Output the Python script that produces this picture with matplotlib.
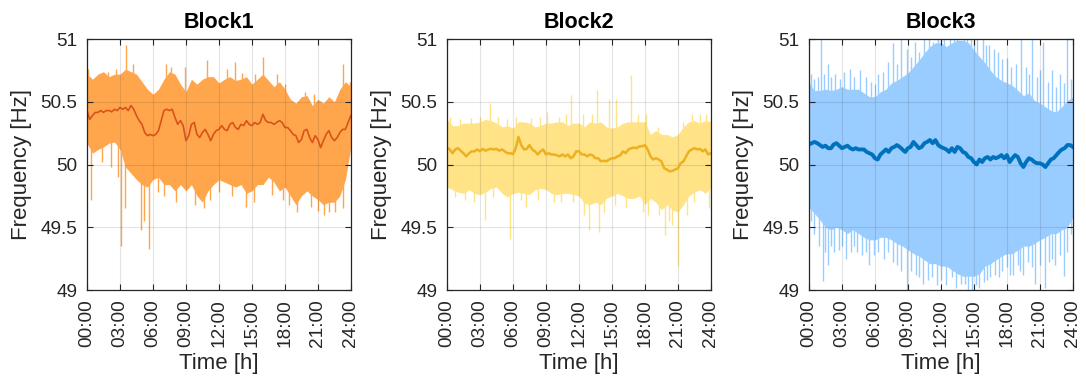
import numpy as np
import matplotlib.pyplot as plt

plt.rcParams['font.family'] = ['Liberation Sans', 'DejaVu Sans']

# time grids: quarter hours for the mean, half hours for the spread
hours_q = np.arange(0, 24.25, 0.25)
hours_h = np.arange(0, 24.5, 0.5)

# ---- Block1 [Hz]
b1_mean = [50.43, 50.36, 50.39, 50.415, 50.415, 50.43, 50.415, 50.43, 50.43, 50.42,
           50.44, 50.43, 50.455, 50.44, 50.455, 50.43, 50.47, 50.44, 50.39, 50.35,
           50.32, 50.255, 50.23, 50.24, 50.23, 50.24, 50.27, 50.35, 50.43, 50.44,
           50.43, 50.44, 50.375, 50.32, 50.35, 50.31, 50.19, 50.23, 50.32, 50.335,
           50.24, 50.215, 50.255, 50.28, 50.24, 50.19, 50.24, 50.27, 50.28, 50.31,
           50.28, 50.27, 50.32, 50.335, 50.295, 50.28, 50.32, 50.31, 50.35, 50.32,
           50.31, 50.335, 50.32, 50.335, 50.40, 50.35, 50.335, 50.335, 50.32, 50.335,
           50.35, 50.335, 50.295, 50.295, 50.27, 50.24, 50.23, 50.175, 50.20, 50.27,
           50.28, 50.215, 50.175, 50.23, 50.20, 50.135, 50.19, 50.24, 50.27, 50.215,
           50.19, 50.215, 50.255, 50.28, 50.28, 50.335, 50.39]
b1_upper = [50.72, 50.68, 50.72, 50.74, 50.70, 50.72, 50.72, 50.76, 50.74, 50.72,
            50.66, 50.60, 50.56, 50.60, 50.68, 50.74, 50.72, 50.64, 50.58, 50.68,
            50.64, 50.68, 50.70, 50.70, 50.65, 50.68, 50.70, 50.67, 50.68, 50.70,
            50.64, 50.68, 50.72, 50.67, 50.62, 50.66, 50.60, 50.52, 50.49, 50.54,
            50.55, 50.47, 50.52, 50.49, 50.54, 50.50, 50.60, 50.66, 50.62]
b1_lower = [50.17, 50.09, 50.12, 50.14, 50.17, 50.18, 50.12, 49.98, 49.93, 49.88,
            49.84, 49.82, 49.88, 49.90, 49.84, 49.84, 49.79, 49.84, 49.79, 49.84,
            49.75, 49.70, 49.79, 49.84, 49.88, 49.86, 49.84, 49.82, 49.84, 49.77,
            49.79, 49.84, 49.84, 49.90, 49.86, 49.79, 49.82, 49.75, 49.68, 49.75,
            49.79, 49.75, 49.72, 49.68, 49.70, 49.70, 49.75, 49.88, 50.14]
b1_peaks_t = [0.05, 1.1, 1.9, 2.6, 3.56, 4.2, 7.2, 7.6, 8.9, 10.9, 12.7, 13.5,
              14.1, 15.3, 16.05, 17.3, 18.0, 19.8, 20.6, 23.3, 23.9]
b1_peaks_f = [50.76, 50.72, 50.74, 50.76, 50.95, 50.80, 50.80, 50.78, 50.78, 50.83,
              50.76, 50.82, 50.73, 50.72, 50.86, 50.72, 50.64, 50.58, 50.56, 50.80,
              50.66]
b1_dips_t = [0.4, 1.4, 2.2, 2.8, 3.1, 3.5, 4.9, 5.2, 5.6, 6.5, 7.0, 8.1, 9.8,
             10.6, 11.2, 12.0, 13.2, 14.5, 15.2, 16.8, 17.8, 18.4, 19.1, 20.4,
             21.0, 21.6, 22.0, 22.6, 23.3]
b1_dips_f = [49.72, 50.02, 49.98, 49.90, 49.35, 49.65, 49.48, 49.55, 49.33, 49.78,
             49.75, 49.70, 49.68, 49.65, 49.72, 49.78, 49.75, 49.66, 49.70, 49.76,
             49.72, 49.68, 49.62, 49.66, 49.63, 49.60, 49.62, 49.62, 49.65]

# ---- Block2
b2_mean = [50.135, 50.12, 50.09, 50.12, 50.13, 50.11, 50.09, 50.065, 50.09, 50.105,
           50.105, 50.12, 50.105, 50.125, 50.11, 50.12, 50.125, 50.12, 50.125, 50.11,
           50.12, 50.105, 50.09, 50.09, 50.083, 50.13, 50.22, 50.155, 50.12, 50.125,
           50.155, 50.12, 50.105, 50.08, 50.105, 50.12, 50.08, 50.09, 50.08, 50.08,
           50.073, 50.065, 50.08, 50.065, 50.08, 50.05, 50.065, 50.105, 50.105, 50.08,
           50.08, 50.065, 50.08, 50.073, 50.05, 50.05, 50.025, 50.03, 50.025, 50.04,
           50.05, 50.05, 50.065, 50.073, 50.105, 50.09, 50.12, 50.13, 50.135, 50.13,
           50.145, 50.145, 50.155, 50.12, 50.065, 50.04, 50.05, 50.04, 50.025, 49.97,
           49.96, 49.945, 49.95, 49.96, 49.97, 50.01, 50.025, 50.065, 50.105, 50.12,
           50.13, 50.12, 50.125, 50.105, 50.12, 50.08, 50.09]
b2_upper = [50.36, 50.31, 50.31, 50.33, 50.33, 50.33, 50.34, 50.36, 50.35, 50.33,
            50.30, 50.31, 50.29, 50.34, 50.34, 50.33, 50.30, 50.31, 50.33, 50.33,
            50.34, 50.34, 50.31, 50.33, 50.33, 50.30, 50.34, 50.33, 50.34, 50.30,
            50.29, 50.30, 50.33, 50.34, 50.34, 50.34, 50.34, 50.24, 50.27, 50.24,
            50.24, 50.22, 50.24, 50.30, 50.34, 50.35, 50.33, 50.35, 50.34]
b2_lower = [49.82, 49.80, 49.78, 49.77, 49.80, 49.77, 49.76, 49.78, 49.81, 49.82,
            49.77, 49.74, 49.77, 49.78, 49.77, 49.76, 49.80, 49.81, 49.80, 49.77,
            49.76, 49.77, 49.77, 49.76, 49.75, 49.69, 49.68, 49.70, 49.68, 49.73,
            49.75, 49.77, 49.75, 49.73, 49.73, 49.75, 49.68, 49.73, 49.70, 49.64,
            49.68, 49.64, 49.62, 49.68, 49.75, 49.78, 49.80, 49.77, 49.82]
b2_peaks_t = [0.3, 1.2, 2.2, 3.0, 3.9, 4.6, 5.5, 6.3, 7.6, 8.5, 9.1, 10.2, 10.8,
              11.3, 12.4, 13.2, 13.65, 14.7, 15.4, 16.7, 17.4, 18.1, 19.2, 21.5,
              22.3, 23.0, 23.6]
b2_peaks_f = [50.38, 50.36, 50.37, 50.38, 50.49, 50.38, 50.36, 50.38, 50.37, 50.38,
              50.42, 50.38, 50.40, 50.55, 50.40, 50.40, 50.59, 50.52, 50.52, 50.71,
              50.40, 50.40, 50.30, 50.34, 50.40, 50.40, 50.40]
b2_dips_t = [0.7, 1.6, 2.5, 3.5, 4.2, 5.7, 6.7, 7.2, 8.3, 9.7, 10.4, 11.5, 12.5,
             12.9, 13.8, 14.3, 15.3, 16.3, 17.8, 18.3, 19.3, 19.8, 20.2, 20.5,
             21.0, 21.8, 22.5, 23.8]
b2_dips_f = [49.74, 49.72, 49.70, 49.56, 49.74, 49.41, 49.72, 49.66, 49.72, 49.70,
             49.70, 49.70, 49.60, 49.48, 49.46, 49.62, 49.68, 49.66, 49.62, 49.60,
             49.60, 49.44, 49.55, 49.52, 49.19, 49.60, 49.70, 49.65]

# ---- Block3
b3_mean = [50.16, 50.17, 50.18, 50.17, 50.155, 50.14, 50.15, 50.13, 50.13, 50.16,
           50.17, 50.15, 50.13, 50.14, 50.15, 50.13, 50.12, 50.13, 50.12, 50.12,
           50.12, 50.10, 50.09, 50.08, 50.05, 50.04, 50.08, 50.10, 50.12, 50.10,
           50.13, 50.14, 50.155, 50.14, 50.12, 50.10, 50.13, 50.14, 50.18, 50.155,
           50.13, 50.14, 50.17, 50.18, 50.195, 50.17, 50.195, 50.155, 50.14, 50.13,
           50.12, 50.10, 50.13, 50.10, 50.14, 50.13, 50.10, 50.09, 50.06, 50.05,
           50.02, 50.00, 50.04, 50.02, 50.05, 50.06, 50.04, 50.06, 50.05, 50.06,
           50.075, 50.05, 50.075, 50.02, 50.05, 50.075, 50.06, 50.01, 49.98, 50.02,
           50.05, 50.04, 50.02, 50.01, 50.01, 50.00, 49.98, 50.01, 50.04, 50.05,
           50.075, 50.10, 50.12, 50.13, 50.155, 50.155, 50.14]
b3_upper = [50.65, 50.59, 50.59, 50.60, 50.59, 50.60, 50.62, 50.60, 50.60, 50.60,
            50.57, 50.54, 50.54, 50.58, 50.60, 50.65, 50.67, 50.70, 50.73, 50.78,
            50.83, 50.89, 50.94, 50.97, 50.97, 50.94, 50.97, 50.99, 50.99, 50.97,
            50.91, 50.86, 50.81, 50.75, 50.70, 50.67, 50.65, 50.63, 50.59, 50.55,
            50.57, 50.51, 50.49, 50.46, 50.43, 50.42, 50.46, 50.51, 50.54]
b3_lower = [49.66, 49.61, 49.56, 49.50, 49.48, 49.50, 49.48, 49.45, 49.48, 49.45,
            49.42, 49.40, 49.40, 49.42, 49.42, 49.40, 49.37, 49.35, 49.32, 49.29,
            49.27, 49.24, 49.21, 49.21, 49.19, 49.19, 49.16, 49.13, 49.11, 49.11,
            49.11, 49.13, 49.19, 49.21, 49.24, 49.27, 49.29, 49.29, 49.32, 49.35,
            49.35, 49.37, 49.40, 49.42, 49.45, 49.45, 49.48, 49.50, 49.58]
b3_peaks_t = [0.2, 0.5, 0.8, 1.06, 1.4, 1.7, 2.0, 2.4, 2.8, 3.2, 3.7, 4.1, 4.6,
              5.2, 5.6, 6.0, 6.3, 6.7, 7.2, 7.6, 8.0, 8.4, 8.9, 9.3, 9.6, 10.0,
              10.5, 10.9, 11.3, 11.7, 12.0, 12.3, 12.8, 13.2, 13.5, 14.1, 14.4,
              14.7, 15.0, 15.3, 15.8, 16.1, 16.4, 16.8, 17.2, 17.6, 18.0, 18.4,
              18.8, 19.3, 19.7, 20.0, 20.3, 20.7, 21.0, 21.3, 21.7, 22.1, 22.5,
              22.8, 23.2, 23.5, 23.8]
b3_peaks_f = [50.72, 50.68, 50.70, 51.0, 50.72, 50.80, 50.70, 50.72, 50.68, 50.74,
              50.76, 50.70, 50.75, 50.70, 50.66, 50.64, 50.72, 50.74, 50.82, 50.97,
              50.80, 51.0, 50.92, 50.86, 50.98, 50.90, 51.0, 51.0, 50.98, 51.0,
              51.0, 51.0, 51.0, 51.0, 51.0, 51.0, 51.0, 51.0, 51.0, 51.0, 51.0,
              50.95, 50.95, 50.92, 50.90, 50.84, 50.85, 50.78, 50.80, 51.0, 50.78,
              50.72, 51.0, 50.70, 50.75, 50.98, 50.66, 50.75, 50.62, 50.72, 50.65,
              51.0, 50.68]
b3_dips_t = [0.2, 0.5, 0.9, 1.27, 1.5, 1.7, 2.0, 2.3, 2.7, 3.0, 3.4, 3.8, 4.1,
             4.4, 4.8, 5.2, 5.5, 5.9, 6.3, 6.8, 7.2, 7.6, 8.0, 8.4, 8.9, 9.3,
             9.7, 10.0, 10.4, 10.8, 11.2, 11.6, 12.0, 12.5, 13.0, 13.4, 13.8,
             14.2, 14.5, 14.8, 15.2, 15.5, 15.9, 16.2, 16.5, 16.9, 17.3, 17.6,
             18.0, 18.3, 18.6, 19.0, 19.2, 19.5, 19.9, 20.3, 20.6, 21.0, 21.5,
             21.8, 22.1, 22.4, 22.8, 23.2, 23.5, 23.8]
b3_dips_f = [49.55, 49.45, 49.35, 49.07, 49.30, 49.20, 49.35, 49.30, 49.32, 49.35,
             49.25, 49.30, 49.35, 49.30, 49.28, 49.30, 49.20, 49.28, 49.30, 49.25,
             49.30, 49.22, 49.20, 49.15, 49.00, 49.15, 49.12, 49.10, 49.05, 49.08,
             49.10, 49.04, 49.08, 49.04, 49.10, 49.02, 49.05, 49.05, 49.00, 49.00,
             49.04, 49.02, 49.06, 49.08, 49.10, 49.12, 49.10, 49.15, 49.18, 49.12,
             49.12, 49.20, 49.15, 49.12, 49.22, 49.18, 49.05, 49.20, 49.02, 49.22,
             49.25, 49.20, 49.28, 49.11, 49.30, 49.45]

blocks = [
    ('Block1', b1_mean, b1_upper, b1_lower, b1_peaks_t, b1_peaks_f, b1_dips_t, b1_dips_f,
     '#FFA64D', '#D95319', 1.2),
    ('Block2', b2_mean, b2_upper, b2_lower, b2_peaks_t, b2_peaks_f, b2_dips_t, b2_dips_f,
     '#FFE386', '#EDB120', 1.8),
    ('Block3', b3_mean, b3_upper, b3_lower, b3_peaks_t, b3_peaks_f, b3_dips_t, b3_dips_f,
     '#99CCFF', '#0072BD', 2.8),
]

ax_left = [0.0801, 0.4116, 0.7449]
txt = '#262626'

fig = plt.figure(figsize=(10.86, 3.81), dpi=100)

for i, (name, mean, up, lo, pk_t, pk_f, dp_t, dp_f, band_c, mean_c, mean_lw) in enumerate(blocks):
    ax = fig.add_axes([ax_left[i], 0.2388, 0.243, 0.6588])
    mean = np.array(mean)

    # spread of the individual days
    ax.fill_between(hours_h, lo, up, color=band_c, lw=0, zorder=2)
    # single-day excursions, drawn from the mean of the nearest quarter hour
    base_pk = mean[np.round(np.array(pk_t) * 4).astype(int)]
    base_dp = mean[np.round(np.array(dp_t) * 4).astype(int)]
    ax.vlines(pk_t, base_pk, pk_f, color=band_c, lw=1.0, zorder=2)
    ax.vlines(dp_t, dp_f, base_dp, color=band_c, lw=1.0, zorder=2)
    # daily mean
    ax.plot(hours_q, mean, color=mean_c, lw=mean_lw, zorder=3)

    ax.set_xlim(0, 24)
    ax.set_ylim(49, 51)
    ax.set_xticks(np.arange(0, 25, 3))
    ax.set_xticklabels(['%02d:00' % h for h in range(0, 25, 3)], rotation=90)
    ax.set_yticks([49, 49.5, 50, 50.5, 51])
    ax.set_yticklabels(['49', '49.5', '50', '50.5', '51'])
    ax.grid(True, color='#262626', alpha=0.12, lw=0.8, zorder=4)
    ax.set_axisbelow(False)
    ax.tick_params(direction='in', length=4, width=0.8, colors=txt, labelsize=13.7,
                   top=True, right=True, pad=7)
    for s in ax.spines.values():
        s.set_color(txt)
        s.set_linewidth(0.9)
        s.set_zorder(5)

    ax.set_title(name, fontsize=15.5, fontweight='bold', pad=8)
    ax.set_xlabel('Time [h]', fontsize=16, color=txt, labelpad=4)
    ax.set_ylabel('Frequency [Hz]', fontsize=16, color=txt, labelpad=6)

plt.savefig('out.png', dpi=100)
